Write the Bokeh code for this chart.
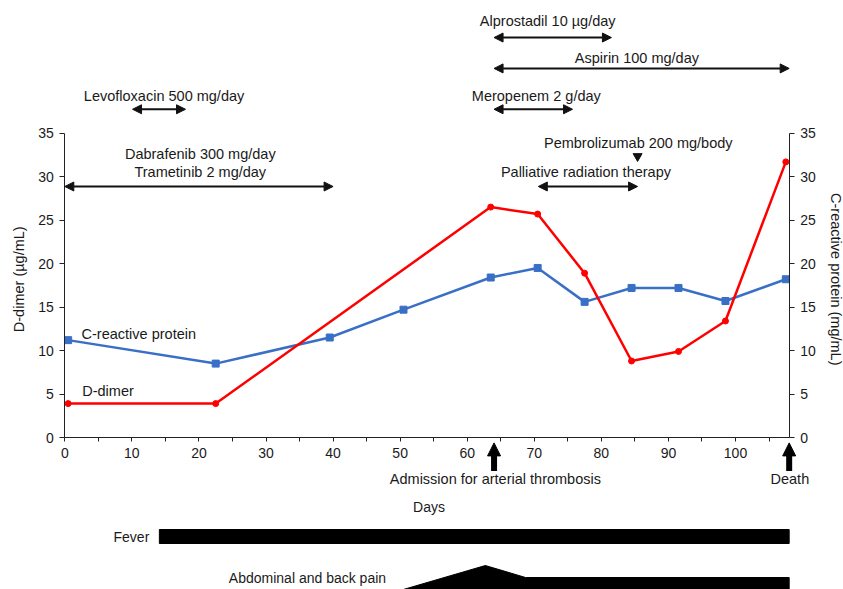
from bokeh.plotting import figure
from bokeh.models import (ColumnDataSource, Range1d, LinearAxis, FixedTicker,
                          Arrow, NormalHead)
from bokeh.core.properties import value
from bokeh.embed import file_html
from bokeh.resources import INLINE

# ---------------- data ----------------
crp_days = [0.5, 22.5, 39.5, 50.5, 63.5, 70.5, 77.5, 84.5, 91.5, 98.5, 107.5]
crp_vals = [11.2, 8.5, 11.5, 14.7, 18.4, 19.5, 15.6, 17.2, 17.2, 15.7, 18.2]

dd_days = [0.5, 22.5, 63.5, 70.5, 77.5, 84.5, 91.5, 98.5, 107.5]
dd_vals = [3.9, 3.9, 26.5, 25.7, 18.9, 8.8, 9.9, 13.4, 31.7]

x_ticks = [0, 10, 20, 30, 40, 50, 60, 70, 80, 90, 100]
x_minor = [5, 15, 25, 35, 45, 55, 65, 75, 85, 95, 105]
y_ticks = [0, 5, 10, 15, 20, 25, 30, 35]

# treatments (start day, end day)
tx_names = ["Alprostadil 10 µg/day", "Aspirin 100 mg/day", "Levofloxacin 500 mg/day",
            "Meropenem 2 g/day", "Palliative radiation therapy"]
tx_start = [64, 64, 10.1, 64, 70.6]
tx_end = [81.5, 108, 18.0, 75.7, 85.4]

dab_name = ["Dabrafenib 300 mg/day", "Trametinib 2 mg/day"]
dab_start = 0
dab_end = 40

pembro_name = "Pembrolizumab 200 mg/body"
pembro_day = 85.4

events = ["Admission for arterial thrombosis", "Death"]
event_days = [64, 108]

fever_start, fever_end = 14.1, 108
pain_days = [49.5, 62.7, 68.7, 108, 108]

# ---------------- layout (positions) ----------------
tx_arrow_y = [46.0, 42.45, 37.75, 37.75, 28.87]
tx_text_x = [72.0, 85.3, 14.8, 70.3, 77.7]
tx_text_y = [47.95, 43.7, 39.25, 39.25, 30.5]

FONT = "Liberation Sans"
TXT = "#1a1a1a"
FS = "14px"
AFS = "14.5px"

p = figure(width=843, height=589,
           x_range=Range1d(-9.587, 116.10), y_range=Range1d(-17.48, 50.26),
           output_backend="svg", toolbar_location=None, min_border=0)
p.title.visible = False
p.xgrid.visible = False
p.ygrid.visible = False
p.outline_line_color = None
p.background_fill_color = "white"
p.border_fill_color = "white"

# x axis
xa = p.xaxis[0]
xa.fixed_location = 0
xa.bounds = (0, 108)
xa.ticker = FixedTicker(ticks=x_ticks, minor_ticks=x_minor)
xa.major_tick_out = 4
xa.major_tick_in = 0
xa.minor_tick_out = 4
xa.minor_tick_in = 0
xa.major_label_standoff = 6

# left y axis
ya = p.yaxis[0]
ya.fixed_location = 0
ya.bounds = (0, 35)
ya.ticker = FixedTicker(ticks=y_ticks, minor_ticks=[])
ya.major_tick_out = 5
ya.major_tick_in = 0
ya.major_label_standoff = 6

# right y axis
ry = LinearAxis(fixed_location=108, bounds=(0, 35),
                ticker=FixedTicker(ticks=y_ticks, minor_ticks=[]))
ry.major_tick_out = 5
ry.major_tick_in = 0
ry.major_label_standoff = 6
p.add_layout(ry, "right")

for ax in (xa, ya, ry):
    ax.axis_line_color = "#222222"
    ax.major_tick_line_color = "#222222"
    ax.minor_tick_line_color = "#222222"
    ax.major_label_text_font = FONT
    ax.major_label_text_font_size = FS
    ax.major_label_text_color = TXT
    ax.axis_label = None

# series
p.line(crp_days, crp_vals, line_color="#3A6FC6", line_width=2.5)
p.scatter(crp_days, crp_vals, marker="square", size=7, fill_color="#3A6FC6",
          line_color="#3A6FC6")
p.line(dd_days, dd_vals, line_color="#FF0000", line_width=2.5)
p.scatter(dd_days, dd_vals, marker="circle", size=6, fill_color="#FF0000",
          line_color="#FF0000")

# treatment arrows
def dbl_arrow(x0, x1, y, size=9):
    p.add_layout(Arrow(x_start=x0, y_start=y, x_end=x1, y_end=y,
                       line_width=2, line_color="#111111",
                       start=NormalHead(size=size, fill_color="#111111", line_color="#111111", line_width=1),
                       end=NormalHead(size=size, fill_color="#111111", line_color="#111111", line_width=1)))

for s, e, y in zip(tx_start, tx_end, tx_arrow_y):
    dbl_arrow(s, e, y)
dbl_arrow(dab_start, dab_end, 28.87)

tsrc = ColumnDataSource(dict(x=tx_text_x, y=tx_text_y, t=tx_names))
p.text(x="x", y="y", text="t", source=tsrc, text_align="center", text_baseline="middle",
       text_font=value(FONT), text_font_size=AFS, text_color=TXT)

p.text(x=[20.2, 20.2], y=[32.55, 30.5], text=dab_name, text_align="center",
       text_baseline="middle", text_font=value(FONT), text_font_size=AFS, text_color=TXT)

p.text(x=[85.5], y=[33.85], text=[pembro_name], text_align="center",
       text_baseline="middle", text_font=value(FONT), text_font_size=AFS, text_color=TXT)
p.scatter([pembro_day], [32.35], marker="inverted_triangle", size=9,
          fill_color="#111111", line_color="#111111")

# series labels
p.text(x=[2.5, 2.6], y=[11.96, 5.4], text=["C-reactive protein", "D-dimer"],
       text_align="left", text_baseline="middle", text_font=value(FONT),
       text_font_size=AFS, text_color=TXT)

# axis titles
p.text(x=[-6.86], y=[18.2], text=["D-dimer (µg/mL)"], angle=1.5708,
       text_align="center", text_baseline="middle", text_font=value(FONT),
       text_font_size="14.5px", text_color=TXT)
p.text(x=[115.0], y=[18.2], text=["C-reactive protein (mg/mL)"], angle=-1.5708,
       text_align="center", text_baseline="middle", text_font=value(FONT),
       text_font_size="14.5px", text_color=TXT)

# events arrows
for d in event_days:
    p.add_layout(Arrow(x_start=d, y_start=-3.85, x_end=d, y_end=-0.62,
                       line_width=6, line_color="black",
                       end=NormalHead(size=13, fill_color="black", line_color="black", line_width=1)))
p.text(x=[64.2, 108.1], y=[-4.75, -4.75], text=events, text_align="center",
       text_baseline="middle", text_font=value(FONT), text_font_size=AFS, text_color=TXT)

p.text(x=[54.3], y=[-8.02], text=["Days"], text_align="center", text_baseline="middle",
       text_font=value(FONT), text_font_size=FS, text_color=TXT)

# symptoms
p.quad(left=[fever_start], right=[fever_end], top=[-10.58], bottom=[-12.19],
       fill_color="black", line_color="black")
p.text(x=[12.6], y=[-11.45], text=["Fever"], text_align="right", text_baseline="middle",
       text_font=value(FONT), text_font_size=FS, text_color=TXT)

p.patch(pain_days, [-17.7, -14.72, -16.1, -16.1, -17.7], fill_color="black",
        line_color="black")
p.text(x=[47.9], y=[-16.2], text=["Abdominal and back pain"], text_align="right",
       text_baseline="middle", text_font=value(FONT), text_font_size=FS, text_color=TXT)

open("out.html", "w").write(file_html(p, INLINE))
